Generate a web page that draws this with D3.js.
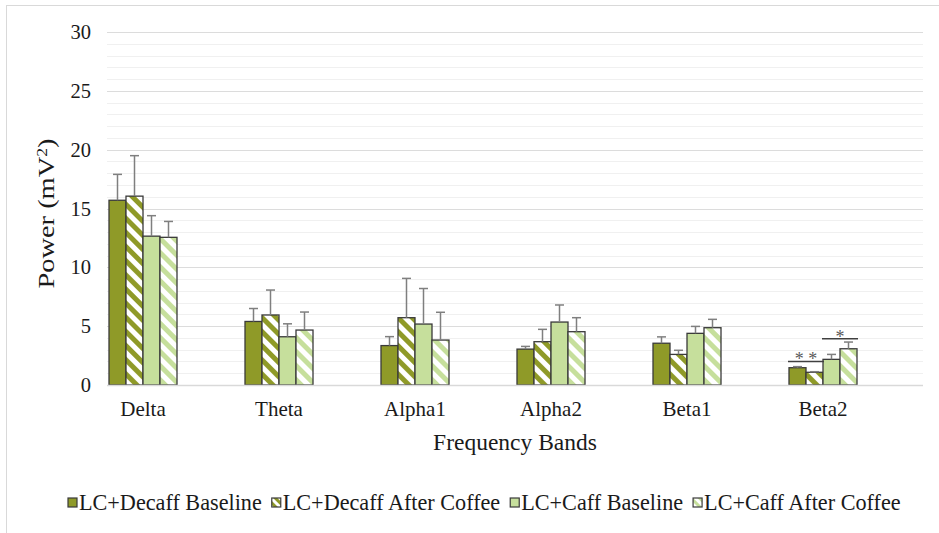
<!DOCTYPE html>
<html>
<head>
<meta charset="utf-8">
<script src="https://cdn.jsdelivr.net/npm/d3@7"></script>
<style>
  html, body { margin: 0; padding: 0; background: #fff; }
  svg { display: block; }
</style>
</head>
<body>
<svg id="chart" width="939" height="533" font-family="'Liberation Serif', 'Times New Roman', Times, serif" fill="#1a1a1a"></svg>
<script>
// Frequency bands on the x axis
const categories = ["Delta", "Theta", "Alpha1", "Alpha2", "Beta1", "Beta2"];
const seriesNames = ["LC+Decaff Baseline", "LC+Decaff After Coffee", "LC+Caff Baseline", "LC+Caff After Coffee"];

// Mean power (mV²) per band
const decaffBaseline = [15.7, 5.4, 3.35, 3.05, 3.55, 1.47];
const decaffAfter    = [16.05, 5.95, 5.72, 3.68, 2.6, 1.08];
const caffBaseline   = [12.65, 4.1, 5.18, 5.35, 4.39, 2.18];
const caffAfter      = [12.55, 4.67, 3.82, 4.53, 4.87, 3.08];

// Upper error bar lengths
const decaffBaselineErr = [2.2, 1.1, 0.76, 0.23, 0.54, 0.09];
const decaffAfterErr    = [3.44, 2.12, 3.34, 1.05, 0.35, 0.05];
const caffBaselineErr   = [1.74, 1.1, 3.02, 1.45, 0.59, 0.42];
const caffAfterErr      = [1.35, 1.53, 2.36, 1.19, 0.71, 0.57];

// Y axis ticks
const yTicks = [0, 5, 10, 15, 20, 25, 30];

// Significance brackets: band, first and last series index, level, label
const sigBand = ["Beta2", "Beta2"];
const sigFrom = [0, 2];
const sigTo = [1, 3];
const sigLevel = [2.0, 3.93];
const sigLabel = ["* *", "*"];

const values = [decaffBaseline, decaffAfter, caffBaseline, caffAfter];
const errors = [decaffBaselineErr, decaffAfterErr, caffBaselineErr, caffAfterErr];

const olive = "#8f9a28";
const lightGreen = "#c6df9c";
const fills = [olive, "url(#hatchOlive)", lightGreen, "url(#hatchLight)"];
const legendFills = [olive, "url(#hatchOliveSmall)", lightGreen, "url(#hatchLightSmall)"];

const svg = d3.select("#chart");

// Chart frame
svg.append("rect")
  .attr("x", 6.5).attr("y", 5.5)
  .attr("width", 960).attr("height", 560)
  .attr("fill", "none").attr("stroke", "#d9d9d9").attr("stroke-width", 1);

// Hatch patterns
const defs = svg.append("defs");
function hatch(id, color, size) {
  const p = defs.append("pattern")
    .attr("id", id)
    .attr("patternUnits", "userSpaceOnUse")
    .attr("width", size).attr("height", size)
    .attr("patternTransform", "rotate(45)");
  p.append("rect").attr("width", size).attr("height", size).attr("fill", "#fff");
  p.append("rect").attr("x", 0).attr("y", 0).attr("width", size).attr("height", size / 2).attr("fill", color);
}
hatch("hatchOlive", olive, 10);
hatch("hatchLight", lightGreen, 10);
hatch("hatchOliveSmall", olive, 6);
hatch("hatchLightSmall", lightGreen, 6);

const plotLeft = 107, plotRight = 923, plotTop = 32, plotBottom = 385;

const y = d3.scaleLinear().domain([0, 30]).range([plotBottom, plotTop]);
const x = d3.scaleBand().domain(categories).range([plotLeft, plotRight]);
const groupWidth = 68;
const xs = d3.scaleBand().domain(d3.range(seriesNames.length)).range([0, groupWidth]);
const groupStart = c => x(c) + 2;

// Gridlines: minor every 1, major every 5
const g = svg.append("g");
g.selectAll("line.minor")
  .data(d3.range(1, 31).filter(v => v % 5 !== 0))
  .join("line")
  .attr("x1", plotLeft).attr("x2", plotRight)
  .attr("y1", d => Math.round(y(d)) + 0.5).attr("y2", d => Math.round(y(d)) + 0.5)
  .attr("stroke", "#f0f0f0").attr("stroke-width", 1.2);
g.selectAll("line.major")
  .data(yTicks.filter(v => v > 0))
  .join("line")
  .attr("x1", plotLeft).attr("x2", plotRight)
  .attr("y1", d => Math.round(y(d)) + 0.5).attr("y2", d => Math.round(y(d)) + 0.5)
  .attr("stroke", "#dcdcdc").attr("stroke-width", 1.2);

// Y tick labels
svg.append("g").selectAll("text")
  .data(yTicks)
  .join("text")
  .attr("x", 91)
  .attr("y", d => y(d) + 7)
  .attr("text-anchor", "end")
  .attr("font-size", 20.5)
  .text(d => d);

// Bars
const groups = svg.append("g").selectAll("g")
  .data(categories)
  .join("g")
  .attr("transform", c => `translate(${groupStart(c)},0)`);

seriesNames.forEach((name, si) => {
  groups.append("rect")
    .attr("x", xs(si))
    .attr("y", (c, ci) => y(values[si][ci]))
    .attr("width", xs.bandwidth())
    .attr("height", (c, ci) => y(0) - y(values[si][ci]))
    .attr("fill", fills[si])
    .attr("stroke", "#3a3a3a")
    .attr("stroke-width", 1.3);
});

// Error bars (upper only)
seriesNames.forEach((name, si) => {
  const cx = xs(si) + xs.bandwidth() / 2;
  groups.append("line")
    .attr("x1", cx).attr("x2", cx)
    .attr("y1", (c, ci) => y(values[si][ci]))
    .attr("y2", (c, ci) => y(values[si][ci] + errors[si][ci]))
    .attr("stroke", "#7f7f7f").attr("stroke-width", 1.5);
  groups.append("line")
    .attr("x1", cx - 4.5).attr("x2", cx + 4.5)
    .attr("y1", (c, ci) => y(values[si][ci] + errors[si][ci]))
    .attr("y2", (c, ci) => y(values[si][ci] + errors[si][ci]))
    .attr("stroke", "#7f7f7f").attr("stroke-width", 1.5);
});

// X axis baseline
svg.append("line")
  .attr("x1", plotLeft).attr("x2", plotRight)
  .attr("y1", plotBottom + 0.5).attr("y2", plotBottom + 0.5)
  .attr("stroke", "#d9d9d9").attr("stroke-width", 1.5);

// Category labels
svg.append("g").selectAll("text")
  .data(categories)
  .join("text")
  .attr("x", c => groupStart(c) + groupWidth / 2)
  .attr("y", 416)
  .attr("text-anchor", "middle")
  .attr("font-size", 21)
  .text(c => c);

// Significance brackets
sigBand.forEach((band, i) => {
  const x1 = groupStart(band) + xs(sigFrom[i]) - 1;
  const x2 = groupStart(band) + xs(sigTo[i]) + xs.bandwidth() + 1;
  svg.append("line")
    .attr("x1", x1).attr("x2", x2)
    .attr("y1", y(sigLevel[i])).attr("y2", y(sigLevel[i]))
    .attr("stroke", "#404040").attr("stroke-width", 1.5);
  svg.append("text")
    .attr("x", (x1 + x2) / 2)
    .attr("y", y(sigLevel[i]) + 4)
    .attr("text-anchor", "middle")
    .attr("font-size", 18)
    .attr("fill", "#595959")
    .text(sigLabel[i]);
});

// Axis titles
svg.append("text")
  .attr("transform", `translate(54,${(plotTop + plotBottom) / 2 + 5}) rotate(-90)`)
  .attr("text-anchor", "middle")
  .attr("font-size", 22.5)
  .attr("textLength", 150)
  .attr("lengthAdjust", "spacingAndGlyphs")
  .html('Power (mV<tspan baseline-shift="super" font-size="14">2</tspan>)');

svg.append("text")
  .attr("x", 515)
  .attr("y", 450)
  .attr("text-anchor", "middle")
  .attr("font-size", 23.5)
  .text("Frequency Bands");

// Legend
const legend = svg.append("g");
let lx = 68;
seriesNames.forEach((name, si) => {
  legend.append("rect")
    .attr("x", lx).attr("y", 498)
    .attr("width", 9).attr("height", 9)
    .attr("fill", legendFills[si])
    .attr("stroke", "#3a3a3a").attr("stroke-width", 1.2);
  const t = legend.append("text")
    .attr("x", lx + 11)
    .attr("y", 510)
    .attr("font-size", 22.2)
    .text(name);
  lx += 11 + t.node().getComputedTextLength() + 10;
});
</script>
</body>
</html>
